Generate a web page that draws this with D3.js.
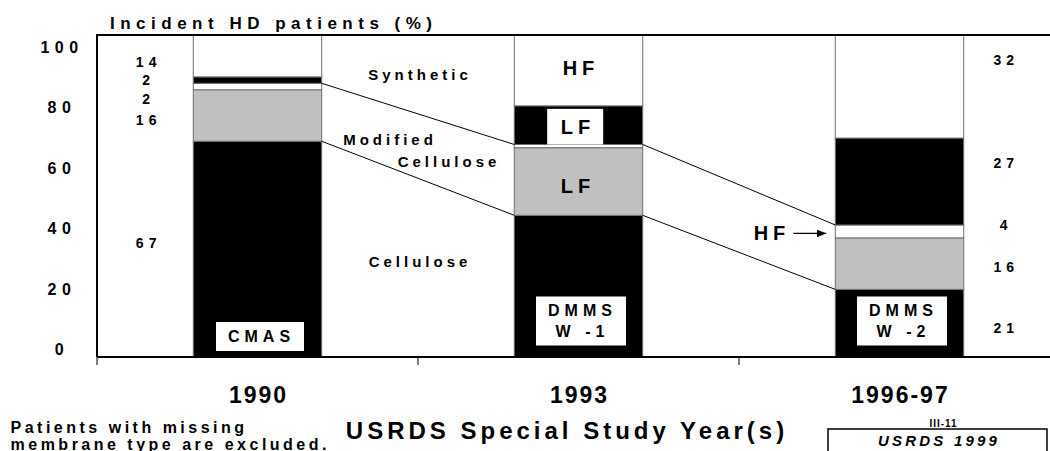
<!DOCTYPE html>
<html>
<head>
<meta charset="utf-8">
<script src="https://d3js.org/d3.v7.min.js"></script>
<style>
  body { margin:0; background:#fff; }
  text { font-family: "Liberation Sans", Arial, sans-serif; font-weight: bold; fill: #000; }
</style>
</head>
<body>
<script>
// membrane shares (%) of incident HD patients, per study, bottom to top of each bar
var years = ["1990", "1993", "1996-97"];
var studies = [["CMAS"], ["DMMS", "W -1"], ["DMMS", "W -2"]];
var cellulose = [67, 44, 21];
var modifiedLF = [16, 21, 16];
var modifiedHF = [2, 1, 4];
var syntheticLF = [2, 12, 27];
var syntheticHF = [14, 22, 32];
var yTicks = [0, 20, 40, 60, 80, 100];

var keys = ["cellulose", "modifiedLF", "modifiedHF", "syntheticLF", "syntheticHF"];
var fills = { cellulose: "#000", modifiedLF: "#c0c0c0", modifiedHF: "#fff", syntheticLF: "#000", syntheticHF: "#fff" };

var rows = years.map(function (yr, i) {
  return { year: yr, cellulose: cellulose[i], modifiedLF: modifiedLF[i], modifiedHF: modifiedHF[i],
           syntheticLF: syntheticLF[i], syntheticHF: syntheticHF[i] };
});
var series = d3.stack().keys(keys)(rows);

var W = 1050, H = 451;
var plotLeft = 97, plotTop = 35, plotBottom = 357;

var svg = d3.select("body").append("svg")
  .attr("width", W)
  .attr("height", H);

var x = d3.scalePoint().domain(years).range([plotLeft, plotLeft + 963]).padding(0.5);
var step = x.step();
var barW = step * 0.4;
var y = d3.scaleLinear().domain([0, 100]).range([plotBottom, plotTop]);
// tick labels sit on their own evenly spaced scale, as in the original slide
var yLab = d3.scaleLinear().domain([0, 100]).range([349.6, 47.3]);

function mid(d) { return (Math.min(d[0], 100) + Math.min(d[1], 100)) / 2; }

// text helper, letter-spacing adds a trailing gap so shift by half of it
function txt(g, s, cx, cy, size, ls, anchor) {
  anchor = anchor || "middle";
  var shift = anchor == "middle" ? ls / 2 : (anchor == "end" ? ls : 0);
  return g.append("text")
    .attr("x", cx + shift)
    .attr("y", cy)
    .attr("dy", "0.35em")
    .attr("text-anchor", anchor)
    .style("font-size", size + "px")
    .style("letter-spacing", ls + "px")
    .text(s);
}

svg.append("clipPath").attr("id", "plot")
  .append("rect").attr("x", plotLeft).attr("y", plotTop)
  .attr("width", W - plotLeft).attr("height", plotBottom - plotTop);

// stacked bars
var bars = svg.append("g").attr("clip-path", "url(#plot)");
bars.selectAll("g")
  .data(series)
  .join("g")
    .attr("fill", function (s) { return fills[s.key]; })
  .selectAll("rect")
  .data(function (s) { return s; })
  .join("rect")
    .attr("x", function (d) { return x(d.data.year) - barW / 2; })
    .attr("y", function (d) { return y(d[1]); })
    .attr("width", barW)
    .attr("height", function (d) { return y(d[0]) - y(d[1]); })
    .attr("stroke", "#6e6e6e")
    .attr("stroke-width", 1);

// connector lines between bars (cellulose top, modified cellulose top)
[0, 2].forEach(function (k) {
  var s = series[k];
  for (var i = 0; i < s.length - 1; i++) {
    svg.append("line")
      .attr("x1", x(years[i]) + barW / 2).attr("y1", y(s[i][1]))
      .attr("x2", x(years[i + 1]) - barW / 2).attr("y2", y(s[i + 1][1]))
      .attr("stroke", "#000").attr("stroke-width", 1);
  }
});

// frame
svg.append("path")
  .attr("d", "M" + plotLeft + "," + plotBottom + "V" + plotTop + "H" + W)
  .attr("fill", "none").attr("stroke", "#000").attr("stroke-width", 2);
svg.append("line")
  .attr("x1", plotLeft).attr("x2", W).attr("y1", plotBottom).attr("y2", plotBottom)
  .attr("stroke", "#000").attr("stroke-width", 2);

// x ticks on the band boundaries
var bounds = years.map(function (yr) { return x(yr) - step / 2; });
bounds.push(x(years[years.length - 1]) + step / 2);
svg.selectAll(".xtick")
  .data(bounds)
  .join("line")
    .attr("class", "xtick")
    .attr("x1", function (d) { return d; }).attr("x2", function (d) { return d; })
    .attr("y1", plotBottom).attr("y2", plotBottom + 8)
    .attr("stroke", "#000").attr("stroke-width", 1);

// y labels
var yAxis = svg.append("g")
  .attr("transform", "translate(62,0)")
  .call(d3.axisLeft(yLab).tickValues(yTicks).tickSize(0));
yAxis.select(".domain").remove();
yAxis.selectAll("text")
  .attr("x", 0)
  .attr("text-anchor", "middle")
  .style("font-size", "16px")
  .style("letter-spacing", "5.5px");

txt(svg, "Incident HD patients (%)", 110, 23, 17, 5.5, "start");

// x labels
years.forEach(function (yr) { txt(svg, yr, x(yr), 395, 23, 2); });
txt(svg, "USRDS Special Study Year(s)", 565, 431, 24, 4);
txt(svg, "Patients with missing", 10.5, 427, 16, 3.5, "start");
txt(svg, "membrane type are excluded.", 10.5, 444, 16, 3.5, "start");

// value labels beside first and last bar
var leftNudge = [-6, 5, 12.5, 0, 6];
var rightNudge = [5.3, 3.4, -6, -18, -26];
series.forEach(function (s, k) {
  var d0 = s[0], d2 = s[years.length - 1];
  txt(svg, d0[1] - d0[0], (plotLeft + x(years[0]) - barW / 2) / 2 + 1, y(mid(d0)) + leftNudge[k], 14, 5);
  txt(svg, d2[1] - d2[0], x(years[2]) + barW / 2 + 40, y(mid(d2)) + rightNudge[k], 14, 5);
});

// category names between first two bars
var gap = (x(years[0]) + x(years[1])) / 2;
txt(svg, "Synthetic", gap, y(86.2) - 5, 15, 4);
txt(svg, "Modified", gap - 30, y(65.8) - 5, 15, 4);
txt(svg, "Cellulose", gap + 29, y(59.1) - 5, 15, 4);
txt(svg, "Cellulose", gap, y(27.9) - 5, 15, 4);

// labels inside the 1993 bar
var c93 = x(years[1]);
txt(svg, "HF", c93, y(mid(series[4][1])) - 2.6, 20, 5);
svg.append("rect")
  .attr("x", c93 - 31.3).attr("width", 56)
  .attr("y", y(series[3][1][1]) + 3).attr("height", y(series[3][1][0]) - y(series[3][1][1]) - 3)
  .attr("fill", "#fff");
txt(svg, "LF", c93 - 3, y(mid(series[3][1])) + 2.3, 20, 5);
txt(svg, "LF", c93 - 3, y(mid(series[1][1])) + 4.5, 20, 5);

// HF arrow at the 1996-97 bar
var l96 = x(years[2]) - barW / 2;
var hfY = y(mid(series[2][2])) + 2;
txt(svg, "HF", l96 - 50, hfY, 20, 5, "end");
svg.append("defs").append("marker")
  .attr("id", "arrow").attr("viewBox", "0 0 10 10").attr("refX", 10).attr("refY", 5)
  .attr("markerWidth", 8).attr("markerHeight", 8).attr("orient", "auto")
  .append("path").attr("d", "M0,1L10,5L0,9Z").attr("fill", "#000");
svg.append("line")
  .attr("x1", l96 - 42).attr("x2", l96 - 9).attr("y1", hfY).attr("y2", hfY)
  .attr("stroke", "#000").attr("stroke-width", 1.2)
  .attr("marker-end", "url(#arrow)");

// study name boxes at the foot of each bar
studies.forEach(function (lines, i) {
  var cx = x(years[i]) + 2.5;
  var h = lines.length == 1 ? 29 : 49;
  var b = lines.length == 1 ? plotBottom - 6 : plotBottom - 11.5;
  svg.append("rect")
    .attr("x", cx - (lines.length == 1 ? 44 : 45)).attr("width", lines.length == 1 ? 88 : 90)
    .attr("y", b - h).attr("height", h)
    .attr("fill", "#fff");
  lines.forEach(function (t, j) {
    txt(svg, t, cx - 1, b - h + (lines.length == 1 ? 14.5 : 14 + j * 20.5), 16, 5);
  });
});

// page tag and source box
txt(svg, "III-11", 943, 423, 10, 1);
svg.append("rect")
  .attr("x", 828).attr("y", 429).attr("width", 219).attr("height", 40)
  .attr("fill", "#fff").attr("stroke", "#000").attr("stroke-width", 1.5);
txt(svg, "USRDS 1999", 937.5, 441, 15, 3.2).style("font-style", "italic");
</script>
</body>
</html>
